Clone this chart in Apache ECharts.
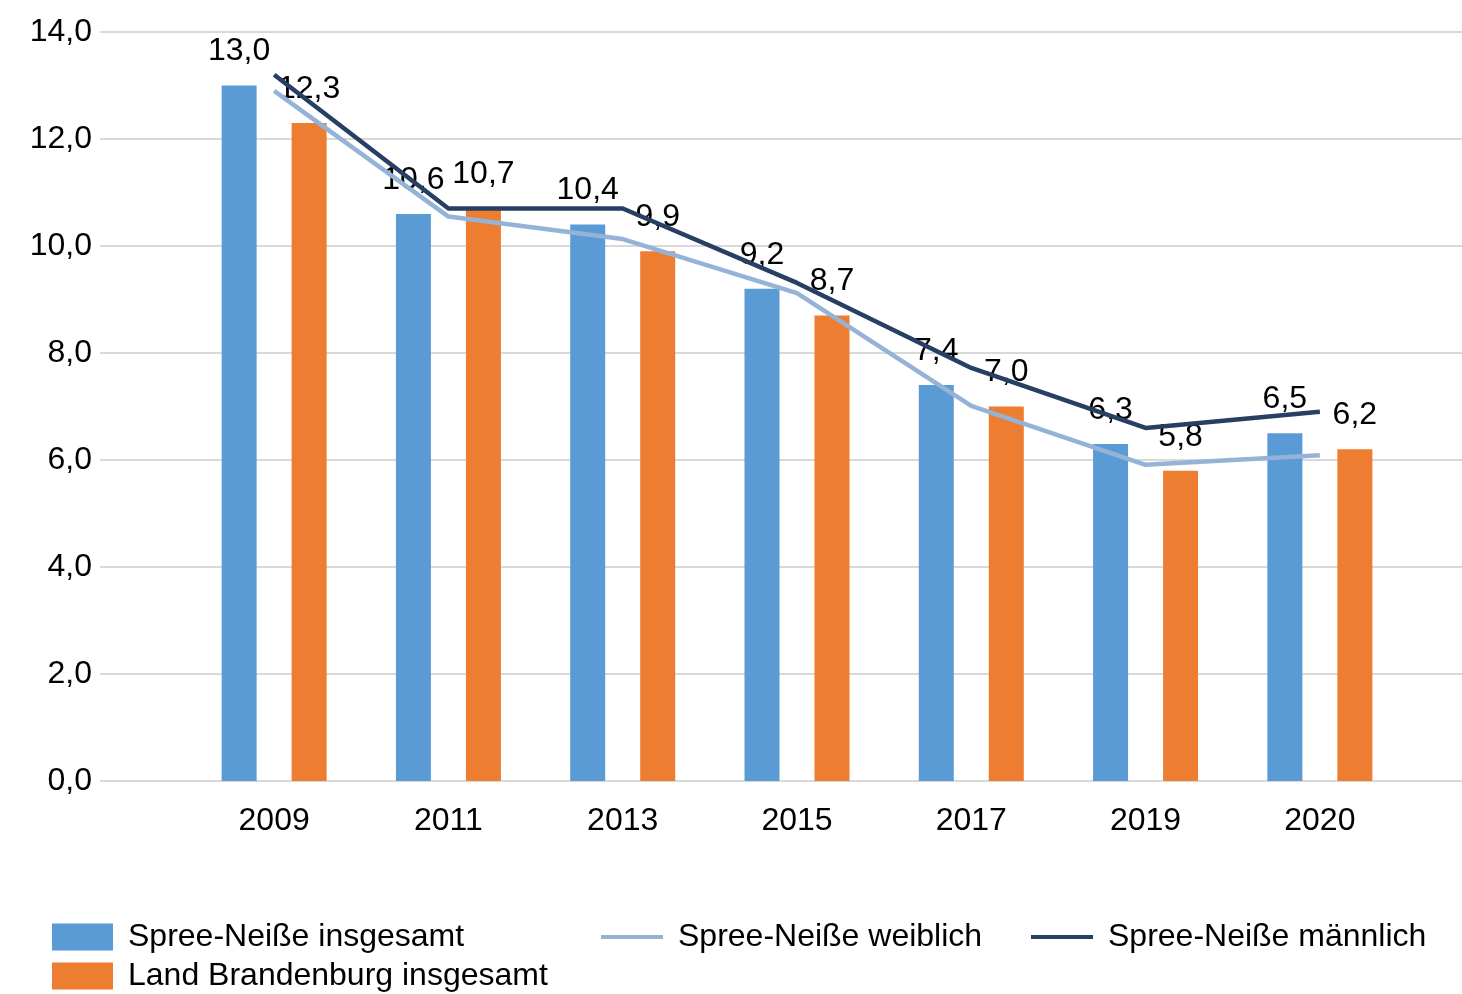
<!DOCTYPE html>
<html>
<head>
<meta charset="utf-8">
<script src="https://cdn.jsdelivr.net/npm/echarts@6/dist/echarts.min.js"></script>
<style>
html, body { margin: 0; padding: 0; background: #fff; }
#main { width: 1462px; height: 994px; }
</style>
</head>
<body>
<div id="main"></div>
<script>
var myChart = echarts.init(document.getElementById('main'));

var years = ['2009', '2011', '2013', '2015', '2017', '2019', '2020'];
var spnGesamt = [13.0, 10.6, 10.4, 9.2, 7.4, 6.3, 6.5];
var brbGesamt = [12.3, 10.7, 9.9, 8.7, 7.0, 5.8, 6.2];
var spnWeiblich = [12.9, 10.55, 10.13, 9.12, 7.01, 5.91, 6.09];
var spnMaennlich = [13.2, 10.7, 10.7, 9.31, 7.72, 6.6, 6.9];

var font = 'Liberation Sans, Arial, sans-serif';
var fmt = function (v) {
	return Number(v).toFixed(1).replace('.', ',');
};

var barLabel = {
	show: true,
	position: 'top',
	distance: 18,
	color: '#000',
	fontFamily: font,
	fontSize: 32,
	formatter: function (p) { return fmt(p.value); }
};

function legendBox(name, left, top, iconH, iconW) {
	return {
		data: [name],
		left: left,
		top: top,
		icon: 'rect',
		itemWidth: iconW,
		itemHeight: iconH,
		padding: 0,
		selectedMode: false,
		textStyle: {
			fontFamily: font,
			fontSize: 32,
			lineHeight: 36,
			color: '#000',
			padding: [0, 0, 0, 10]
		}
	};
}

option = {
	animation: false,
	backgroundColor: '#fff',
	textStyle: { fontFamily: font },
	grid: [
		{ left: 100, right: 0, top: 32, bottom: 213 },
		{ left: 187, right: 55, top: 32, bottom: 213 }
	],
	legend: [
		legendBox('Spree-Neiße insgesamt', 52, 919, 27, 61),
		legendBox('Land Brandenburg insgesamt', 52, 958, 27, 61),
		legendBox('Spree-Neiße weiblich', 601, 919, 4, 62),
		legendBox('Spree-Neiße männlich', 1031, 919, 4, 62)
	],
	xAxis: [
		{ gridIndex: 0, type: 'category', data: years, show: false },
		{
			gridIndex: 1,
			type: 'category',
			data: years,
			axisLine: { show: false },
			axisTick: { show: false },
			axisLabel: { color: '#000', fontFamily: font, fontSize: 32, margin: 24 }
		}
	],
	yAxis: [
		{
			gridIndex: 0,
			type: 'value',
			min: 0,
			max: 14,
			interval: 2,
			axisLine: { show: false },
			axisTick: { show: false },
			axisLabel: { color: '#000', fontFamily: font, fontSize: 32, margin: 8, formatter: fmt },
			splitLine: { lineStyle: { color: '#d9d9d9', width: 2 } }
		},
		{
			gridIndex: 1,
			type: 'value',
			min: 0,
			max: 14,
			interval: 2,
			show: false,
			splitLine: { show: false }
		}
	],
	series: [
		{
			name: 'Spree-Neiße insgesamt',
			type: 'bar',
			xAxisIndex: 1,
			yAxisIndex: 1,
			barWidth: 35,
			barGap: '100%',
			itemStyle: { color: '#5b9bd5' },
			label: barLabel,
			data: spnGesamt
		},
		{
			name: 'Land Brandenburg insgesamt',
			type: 'bar',
			xAxisIndex: 1,
			yAxisIndex: 1,
			barWidth: 35,
			barGap: '100%',
			itemStyle: { color: '#ed7d31' },
			label: barLabel,
			data: brbGesamt
		},
		{
			name: 'Spree-Neiße weiblich',
			type: 'line',
			xAxisIndex: 1,
			yAxisIndex: 1,
			z: 5,
			symbol: 'none',
			itemStyle: { color: '#95b3d7' },
			lineStyle: { color: '#95b3d7', width: 4.5 },
			data: spnWeiblich
		},
		{
			name: 'Spree-Neiße männlich',
			type: 'line',
			xAxisIndex: 1,
			yAxisIndex: 1,
			z: 5,
			symbol: 'none',
			itemStyle: { color: '#263f62' },
			lineStyle: { color: '#263f62', width: 4.5 },
			data: spnMaennlich
		}
	]
};

myChart.setOption(option);
</script>
</body>
</html>
